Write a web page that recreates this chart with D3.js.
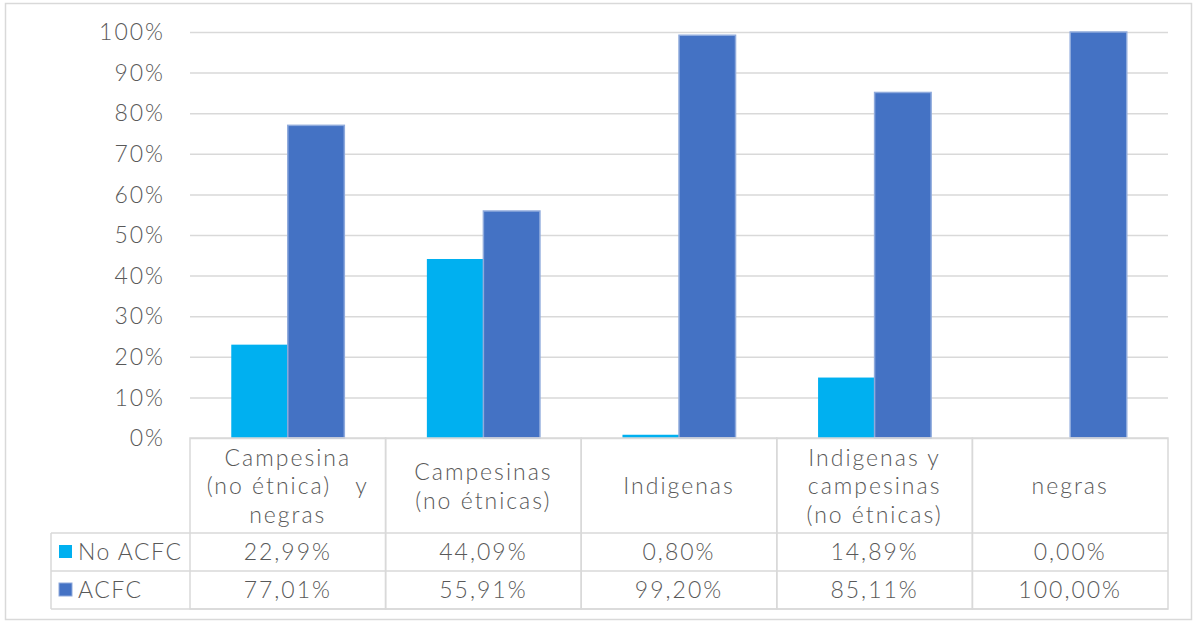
<!DOCTYPE html>
<meta charset="utf-8">
<style>
    body { margin: 0; background: #fff; }
    text {
        font-family: Lato, "Open Sans", sans-serif;
        font-weight: 300;
        fill: #595959;
        letter-spacing: 2px;
        font-size: 23px;
    }
    .grid line { stroke: #d9d9d9; stroke-width: 1.5px; }
    .grid .domain { display: none; }
    .cell { fill: none; stroke: #d9d9d9; stroke-width: 1.5px; }
</style>
<svg width="1197" height="623"></svg>
<script src="https://cdn.jsdelivr.net/npm/d3@7"></script>
<script>

    // data
    var categories = [
        ["Campesina", "(no étnica)   y", "negras"],
        ["Campesinas", "(no étnicas)"],
        ["Indigenas"],
        ["Indigenas y", "campesinas", "(no étnicas)"],
        ["negras"]
    ];
    var seriesNames = ["No ACFC", "ACFC"];
    var noAcfc = [22.99, 44.09, 0.80, 14.89, 0.00];
    var acfc = [77.01, 55.91, 99.20, 85.11, 100.00];
    var yTicks = [0, 10, 20, 30, 40, 50, 60, 70, 80, 90, 100];
    var colors = ["#00b0f0", "#4472c4"];

    var values = [noAcfc, acfc];

    var svg = d3.select("svg");

    // outer frame
    svg.append("rect")
        .attr("x", 5.5).attr("y", 3.5)
        .attr("width", 1186).attr("height", 616)
        .attr("fill", "none").attr("stroke", "#d9d9d9").attr("stroke-width", 1.5);

    var plotLeft = 190, plotRight = 1168, plotTop = 32, plotBottom = 438;

    var x0 = d3.scaleBand()
        .domain(d3.range(categories.length))
        .range([plotLeft, plotRight]);

    var x1 = d3.scaleBand()
        .domain(d3.range(seriesNames.length))
        .range([0, x0.bandwidth()])
        .paddingOuter(0.73);

    var y = d3.scaleLinear()
        .domain([0, 100])
        .range([plotBottom, plotTop]);

    // gridlines
    svg.append("g")
        .attr("class", "grid")
        .attr("transform", "translate(" + plotLeft + ",0)")
        .call(d3.axisLeft(y).tickValues(yTicks).tickSize(-(plotRight - plotLeft)).tickFormat(""));

    // y labels
    svg.append("g").selectAll("text")
        .data(yTicks)
        .enter().append("text")
        .attr("x", 165)
        .attr("y", function (d) { return y(d); })
        .attr("dy", "0.36em")
        .attr("text-anchor", "end")
        .text(function (d) { return d + "%"; });

    // bars
    var groups = svg.append("g").selectAll("g")
        .data(categories)
        .enter().append("g")
        .attr("transform", function (d, i) { return "translate(" + x0(i) + ",0)"; });

    groups.selectAll("rect")
        .data(function (d, i) { return values.map(function (v, s) { return { s: s, v: v[i] }; }); })
        .enter().append("rect")
        .attr("x", function (d) { return x1(d.s); })
        .attr("width", x1.bandwidth())
        .attr("y", function (d) { return y(d.v); })
        .attr("height", function (d) { return plotBottom - y(d.v); })
        .attr("fill", function (d) { return colors[d.s]; })
        .attr("stroke", function (d) { return d.s === 1 ? "#8faadc" : "none"; })
        .attr("stroke-width", 1.5);

    // data table
    var rowTops = [438, 533, 571, 609];
    var legendLeft = 51;
    var table = svg.append("g");

    table.selectAll(".hcell")
        .data(categories)
        .enter().append("rect")
        .attr("class", "cell")
        .attr("x", function (d, i) { return x0(i); })
        .attr("y", rowTops[0])
        .attr("width", x0.bandwidth())
        .attr("height", rowTops[3] - rowTops[0]);

    [1, 2, 3].forEach(function (r) {
        table.append("line")
            .attr("class", "cell")
            .attr("x1", legendLeft).attr("x2", plotRight)
            .attr("y1", rowTops[r]).attr("y2", rowTops[r]);
    });
    table.append("line").attr("class", "cell")
        .attr("x1", legendLeft).attr("x2", legendLeft)
        .attr("y1", rowTops[1]).attr("y2", rowTops[3]);

    // category labels
    var lh = 28.5;
    table.selectAll(".cat")
        .data(categories)
        .enter().append("text")
        .attr("text-anchor", "middle")
        .each(function (d, i) {
            var cy = 486 - (d.length - 1) * lh / 2;
            d3.select(this).selectAll("tspan")
                .data(d)
                .enter().append("tspan")
                .attr("x", x0(i) + x0.bandwidth() / 2)
                .attr("y", function (t, k) { return cy + k * lh; })
                .attr("dy", "0.36em")
                .style("white-space", "pre")
                .text(function (t) { return t; });
        });

    var fmt = d3.formatLocale({ decimal: ",", thousands: ".", grouping: [3], currency: ["", ""] }).format(".2f");

    // value rows with legend keys
    values.forEach(function (vals, s) {
        var cy = (rowTops[s + 1] + rowTops[s + 2]) / 2;
        table.append("rect")
            .attr("x", 59).attr("y", cy - 7)
            .attr("width", 13).attr("height", 13)
            .attr("fill", colors[s])
            .attr("stroke", s === 1 ? "#8faadc" : "none");
        table.append("text")
            .attr("x", 78).attr("y", cy)
            .attr("dy", "0.36em")
            .style("letter-spacing", "1.5px")
            .text(seriesNames[s]);
        table.selectAll(".v" + s)
            .data(vals)
            .enter().append("text")
            .attr("x", function (d, i) { return x0(i) + x0.bandwidth() / 2; })
            .attr("y", cy)
            .attr("dy", "0.36em")
            .attr("text-anchor", "middle")
            .text(function (d) { return fmt(d) + "%"; });
    });

</script>
